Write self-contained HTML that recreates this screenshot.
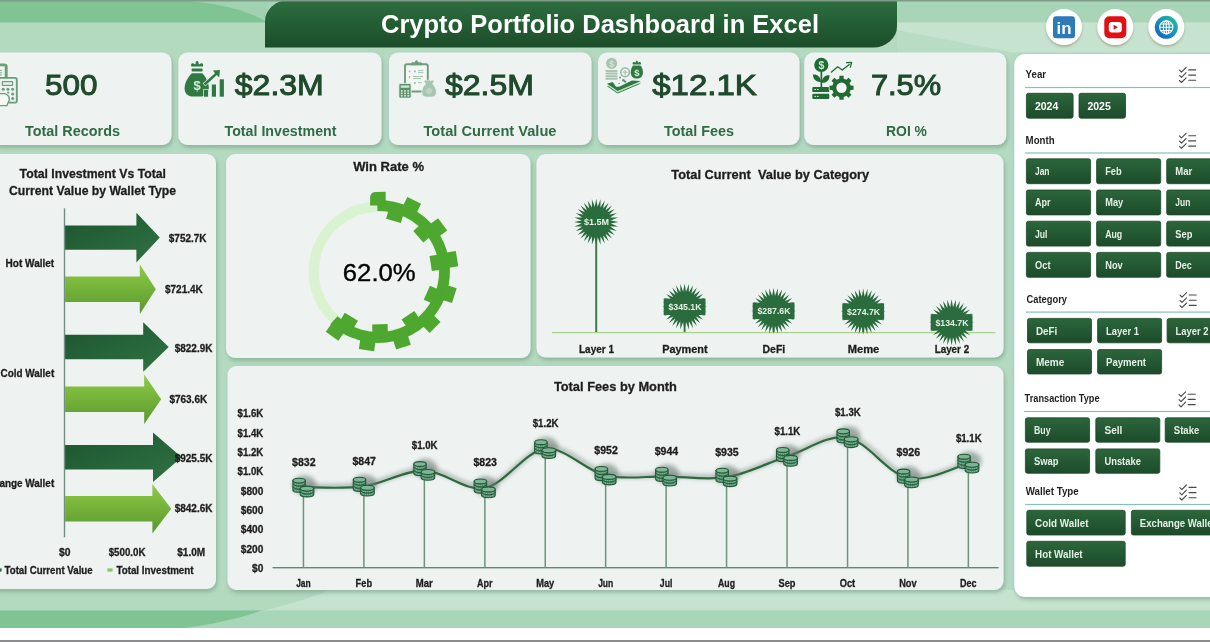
<!DOCTYPE html>
<html lang="en"><head><meta charset="utf-8"><title>Crypto Portfolio Dashboard in Excel</title>
<style>
html,body{margin:0;padding:0;background:#b5dac2;}
body{width:1210px;height:642px;overflow:hidden;}
svg{display:block;font-family:"Liberation Sans",sans-serif;will-change:transform;}
</style></head><body>
<svg width="1210" height="642" viewBox="0 0 1210 642">
<defs>
<filter id="sh" x="-5%" y="-5%" width="110%" height="112%"><feDropShadow dx="1.2" dy="2.6" stdDeviation="2.2" flood-color="#5d8a70" flood-opacity="0.5"/></filter>
<filter id="sh2" x="-20%" y="-20%" width="140%" height="150%"><feDropShadow dx="0" dy="1.5" stdDeviation="1" flood-color="#7a5a40" flood-opacity="0.45"/></filter>
<filter id="glow" x="-50%" y="-50%" width="200%" height="200%"><feGaussianBlur stdDeviation="2.2"/></filter>
<linearGradient id="gTitle" x1="0" y1="0" x2="0" y2="1"><stop offset="0" stop-color="#2d6e40"/><stop offset="1" stop-color="#1b4d2a"/></linearGradient>
<linearGradient id="gGlobe" x1="0" y1="1" x2="1" y2="0"><stop offset="0.1" stop-color="#1463c8"/><stop offset="0.95" stop-color="#1cc4a0"/></linearGradient>
<linearGradient id="gBtn" x1="0" y1="0" x2="0" y2="1"><stop offset="0" stop-color="#2c663c"/><stop offset="1" stop-color="#1c4b2a"/></linearGradient>
<linearGradient id="gDark" x1="0" y1="0" x2="1" y2="1"><stop offset="0" stop-color="#1d5530"/><stop offset="1" stop-color="#2f7242"/></linearGradient>
<linearGradient id="gLight" x1="0" y1="0" x2="0" y2="1"><stop offset="0" stop-color="#8fca45"/><stop offset="1" stop-color="#58992e"/></linearGradient>
</defs>
<rect width="1210" height="642" fill="#b5dac2"/>
<rect x="0" y="0" width="1210" height="22.5" fill="#a8d5b8"/>
<rect x="0" y="22.5" width="1210" height="32" fill="#b3d9bf"/>
<rect x="897" y="22.5" width="320" height="30" fill="#c6e3d0"/>
<path d="M897 30 L1010 52 L1010 60 L897 60Z" fill="#b9dcc5"/>
<path d="M0 0H265V22.5H0Z" fill="#80c494"/>
<path d="M175 0 C225 3 250 12 268 22.5 L268 0Z" fill="#a0d1b0"/>
<rect x="0" y="590" width="1210" height="20.5" fill="#c6e3d0"/>
<path d="M0 590 H330 C300 602 270 610 190 628 H0Z" fill="#b3d9bf"/>
<rect x="0" y="610.5" width="1210" height="17.5" fill="#a8d6b9"/>
<path d="M0 610.5 H262 C240 618 215 624 185 628 H0Z" fill="#80c494"/>
<rect x="0" y="628" width="1210" height="12" fill="#ffffff"/>
<rect x="0" y="640" width="1210" height="2" fill="#8c8c8c"/>
<path d="M289 0 H897 V26.5 A24 21 0 0 1 873 47.5 H265 V21 A24 21 0 0 1 289 0Z" fill="url(#gTitle)"/>
<text x="600" y="32.5" font-size="25.5" font-weight="bold" fill="#ffffff" text-anchor="middle" textLength="438" lengthAdjust="spacingAndGlyphs">Crypto Portfolio Dashboard in Excel</text>
<rect x="0" y="0" width="1210" height="1.5" fill="#7f9c88"/>
<circle cx="1064" cy="27.1" r="18" fill="#ffffff" filter="url(#sh2)"/>
<circle cx="1115.3" cy="27.1" r="18" fill="#ffffff" filter="url(#sh2)"/>
<circle cx="1166.3" cy="27.1" r="18" fill="#ffffff" filter="url(#sh2)"/>
<rect x="1053" y="16.3" width="22" height="22" rx="3" fill="#2d7ab8"/>
<text x="1064" y="34.3" font-size="17" font-weight="bold" fill="#ffffff" text-anchor="middle" textLength="15" lengthAdjust="spacingAndGlyphs">in</text>
<rect x="1104.3" y="16.3" width="22" height="22" rx="5" fill="#e20f12"/>
<rect x="1108.8" y="22" width="13" height="10.6" rx="3" fill="#ffffff"/>
<path d="M1113.6 24.8 L1118 27.3 L1113.6 29.8Z" fill="#e20f12"/>
<circle cx="1166.3" cy="27.3" r="11.5" fill="url(#gGlobe)"/>
<g fill="none" stroke="#ffffff" stroke-width="1.1"><circle cx="1166.3" cy="27.3" r="6.6"/><ellipse cx="1166.3" cy="27.3" rx="2.9" ry="6.6"/><path d="M1159.7 27.3H1172.9M1160.7 24H1171.9M1160.7 30.6H1171.9M1166.3 20.7V33.9"/></g>
<rect x="-10" y="52.5" width="181.5" height="92.5" rx="9" fill="#eef3f1" filter="url(#sh)"/>
<rect x="178.3" y="52.5" width="203.2" height="92.5" rx="9" fill="#eef3f1" filter="url(#sh)"/>
<rect x="389" y="52.5" width="202.5" height="92.5" rx="9" fill="#eef3f1" filter="url(#sh)"/>
<rect x="598" y="52.5" width="201.5" height="92.5" rx="9" fill="#eef3f1" filter="url(#sh)"/>
<rect x="804.3" y="52.5" width="202" height="92.5" rx="9" fill="#eef3f1" filter="url(#sh)"/>
<text x="45" y="94.6" font-size="30" font-weight="normal" fill="#1f4a2c" textLength="52.5" lengthAdjust="spacingAndGlyphs" stroke="#1f4a2c" stroke-width="1.0">500</text>
<text x="234.8" y="94.6" font-size="30" font-weight="normal" fill="#1f4a2c" textLength="89" lengthAdjust="spacingAndGlyphs" stroke="#1f4a2c" stroke-width="1.0">$2.3M</text>
<text x="445" y="94.6" font-size="30" font-weight="normal" fill="#1f4a2c" textLength="89" lengthAdjust="spacingAndGlyphs" stroke="#1f4a2c" stroke-width="1.0">$2.5M</text>
<text x="652.2" y="94.6" font-size="30" font-weight="normal" fill="#1f4a2c" textLength="104.6" lengthAdjust="spacingAndGlyphs" stroke="#1f4a2c" stroke-width="1.0">$12.1K</text>
<text x="870.9" y="94.6" font-size="30" font-weight="normal" fill="#1f4a2c" textLength="70.3" lengthAdjust="spacingAndGlyphs" stroke="#1f4a2c" stroke-width="1.0">7.5%</text>
<text x="72.5" y="135.5" font-size="14.3" font-weight="bold" fill="#2f6b43" text-anchor="middle" textLength="95" lengthAdjust="spacingAndGlyphs">Total Records</text>
<text x="280.5" y="135.5" font-size="14.3" font-weight="bold" fill="#2f6b43" text-anchor="middle" textLength="112" lengthAdjust="spacingAndGlyphs">Total Investment</text>
<text x="490" y="135.5" font-size="14.3" font-weight="bold" fill="#2f6b43" text-anchor="middle" textLength="133" lengthAdjust="spacingAndGlyphs">Total Current Value</text>
<text x="699" y="135.5" font-size="14.3" font-weight="bold" fill="#2f6b43" text-anchor="middle" textLength="70" lengthAdjust="spacingAndGlyphs">Total Fees</text>
<text x="906.5" y="135.5" font-size="14.3" font-weight="bold" fill="#2f6b43" text-anchor="middle" textLength="41" lengthAdjust="spacingAndGlyphs">ROI %</text>
<rect x="-10" y="154" width="226" height="435" rx="9" fill="#eef3f1" filter="url(#sh)"/>
<rect x="226" y="154" width="304.5" height="204" rx="9" fill="#eef3f1" filter="url(#sh)"/>
<rect x="536.5" y="154" width="467" height="203.5" rx="9" fill="#eef3f1" filter="url(#sh)"/>
<rect x="227.5" y="366" width="776" height="224" rx="9" fill="#eef3f1" filter="url(#sh)"/>
<rect x="1014.3" y="54" width="210" height="543" rx="11" fill="#ffffff" filter="url(#sh)"/>
<g fill="none" stroke="#6a9d79" stroke-width="1.2"><path d="M-2 64.9 H4.6 A1.6 1.6 0 0 1 6.2 66.5 V77.5" stroke-width="2.9"/><path d="M-1 70.5H1.8M-1 72.7H1.8M-1 74.9H1.8" stroke-width="0.9"/><path d="M-2 77.9 H15.2 A1.6 1.6 0 0 1 16.8 79.5 V101 A1.6 1.6 0 0 1 15.2 102.6 H9" stroke-width="1.9"/><rect x="2.4" y="81.6" width="10.2" height="3.8" rx="0.6"/></g>
<g fill="#6a9d79"><circle cx="3.3" cy="89.2" r="1.5"/><circle cx="7.9" cy="89.2" r="1.5"/><circle cx="12.6" cy="89.2" r="1.5"/><circle cx="12.6" cy="93.9" r="1.5"/><circle cx="12.6" cy="98.5" r="1.5"/><circle cx="8.2" cy="92.6" r="1.1"/></g>
<path d="M-3 93.6 H4.5 C8 94.5 9.6 97.5 9.2 100.5 L6.8 105.6 H-3Z" fill="#f6faf7" stroke="#6a9d79" stroke-width="1.4" stroke-linejoin="round"/>
<g fill="#2f7a43"><path d="M191.3 66.6 C190.6 64.6 191.4 62.8 193 63.2 C194 63.6 195 64.4 195.6 64.2 C195.4 62.2 196.2 61 197.1 61 C198 61 198.8 62.2 198.6 64.2 C199.2 64.4 200.2 63.6 201.2 63.2 C202.8 62.8 203.6 64.6 202.9 66.6Z"/><rect x="191.6" y="68.6" width="11" height="3" rx="0.8"/><path d="M192 73.2 H202.2 C205.5 76.5 208.8 82 208.8 88 C208.8 93.5 205 96.6 200 96.6 H193 C188 96.6 184.6 93.5 184.6 88.5 C184.6 82 188.5 76.5 192 73.2Z"/></g>
<g fill="#2f7a43" stroke="#eef3f1" stroke-width="1.3" paint-order="stroke"><rect x="203.9" y="89.7" width="4.2" height="7"/><rect x="211.8" y="84.5" width="4.2" height="12.2"/><rect x="219.7" y="79.3" width="4.2" height="17.4"/><path d="M203.6 83.4 L215 73.2 L212.9 70.6 L220 70 L219.2 77.4 L216.9 75 L205.4 85.4Z"/></g>
<text x="197.2" y="90" font-size="13" font-weight="bold" fill="#d4ead6" text-anchor="middle">$</text>
<rect x="405" y="64.3" width="22.8" height="27.2" rx="1.8" fill="#f3f7f4" stroke="#6f9d7c" stroke-width="1.9"/>
<path d="M411.2 65.2 V63.2 Q411.2 62.2 412.2 62.2 H414.8 C415.2 60.8 416 60.2 416.5 60.2 C417 60.2 417.8 60.8 418.2 62.2 H420.8 Q421.8 62.2 421.8 63.2 V65.2Z" fill="#6f9d7c"/>
<g fill="#9dbda6"><circle cx="409.6" cy="71.4" r="0.9"/><circle cx="414.8" cy="71.4" r="1.1"/><circle cx="409.6" cy="77" r="0.9"/><circle cx="414.8" cy="83" r="1.1"/><rect x="418" y="70.2" width="5.4" height="0.9"/><rect x="418" y="72.2" width="5.4" height="0.9"/><rect x="413" y="76" width="10" height="0.9"/><rect x="413" y="78" width="8" height="0.9"/><rect x="418" y="82.2" width="4" height="0.9"/></g>
<rect x="398.9" y="83.5" width="12.2" height="14.6" rx="1.4" fill="#5c8f6b" stroke="#eef3f1" stroke-width="0.8"/>
<rect x="400.7" y="85.4" width="8.6" height="2.4" fill="#cfe3d4"/>
<rect x="400.80" y="90.10" width="1.9" height="1.6" fill="#cfe3d4"/><rect x="400.80" y="92.55" width="1.9" height="1.6" fill="#cfe3d4"/><rect x="400.80" y="95.00" width="1.9" height="1.6" fill="#cfe3d4"/><rect x="404.05" y="90.10" width="1.9" height="1.6" fill="#cfe3d4"/><rect x="404.05" y="92.55" width="1.9" height="1.6" fill="#cfe3d4"/><rect x="404.05" y="95.00" width="1.9" height="1.6" fill="#cfe3d4"/><rect x="407.30" y="90.10" width="1.9" height="1.6" fill="#cfe3d4"/><rect x="407.30" y="92.55" width="1.9" height="1.6" fill="#cfe3d4"/><rect x="407.30" y="95.00" width="1.9" height="1.6" fill="#cfe3d4"/>
<g fill="#a7c5b0" stroke="#eef3f1" stroke-width="0.8"><path d="M424.6 82.6 C423.6 81.2 424.4 79.8 425.8 80 L427.6 80.8 L429.1 79.7 L430.6 80.8 L432.4 80 C433.8 79.8 434.6 81.2 433.6 82.6 L432.6 84 C435.3 86.3 436.6 89.5 436.4 92.8 C436.2 95.7 434.4 97.1 432 97.1 H426.2 C423.8 97.1 422 95.7 421.8 92.8 C421.6 89.5 422.9 86.3 425.6 84Z"/></g>
<circle cx="429.1" cy="91" r="3" fill="#bdd4c4"/>
<circle cx="611.6" cy="63.4" r="5.6" fill="#a9c4b0"/>
<text x="611.6" y="66.6" font-size="8.5" font-weight="bold" fill="#d6e6da" text-anchor="middle">$</text>
<rect x="605.4" y="69.90" width="12.3" height="2" rx="0.9" fill="#a9c4b0"/>
<rect x="605.4" y="72.55" width="12.3" height="2" rx="0.9" fill="#a9c4b0"/>
<rect x="605.4" y="75.20" width="12.3" height="2" rx="0.9" fill="#a9c4b0"/>
<rect x="605.4" y="77.85" width="12.3" height="2" rx="0.9" fill="#a9c4b0"/>
<circle cx="625.1" cy="72.3" r="4.3" fill="#f3f7f4" stroke="#9cb8a5" stroke-width="1.6"/>
<path d="M625.1 69.9V74.7M622.7 72.3H627.5" stroke="#b4cabb" stroke-width="1.5"/>
<g fill="#2f7a43"><path d="M632.8 64.6 C632.2 62.9 632.9 61.6 634.2 62 L635.6 62.8 C635.6 61.4 636.1 60.8 636.8 60.8 C637.5 60.8 638 61.4 638 62.8 L639.4 62 C640.7 61.6 641.4 62.9 640.8 64.6Z"/><path d="M633.2 65.6 H640.4 C642 67.2 642.9 69.6 642.9 72.4 C642.9 76.2 640.6 78.4 637.4 78.4 H636.2 C633 78.4 630.8 76.2 630.8 72.4 C630.8 69.6 631.6 67.2 633.2 65.6Z"/></g>
<text x="636.8" y="76" font-size="9.5" font-weight="bold" fill="#d4ead6" text-anchor="middle">$</text>
<path d="M607 83.7 L612.3 81.9 C613.6 82.6 614.4 84.4 615.4 85.9 C616.2 87 618.4 87.2 620.7 85.9 L631.9 80.6 L641 80.9 L617.6 90.9Z" fill="#2f7a43" transform="translate(0,2.6)"/>
<path d="M607 83.7 L612.3 81.9 C613.6 82.6 614.4 84.4 615.4 85.9 C616.2 87 618.4 87.2 620.7 85.9 L631.9 80.6 L641 80.9 L617.6 90.9Z" fill="#bfe3c8" transform="translate(0,1.5)"/>
<path d="M607 83.7 L612.3 81.9 C613.6 82.6 614.4 84.4 615.4 85.9 C616.2 87 618.4 87.2 620.7 85.9 L631.9 80.6 L641 80.9 L617.6 90.9Z" fill="#2f7a43"/>
<path d="M607 83.7 L617.6 90.9 L641 80.9" fill="none" stroke="#bfe3c8" stroke-width="0.5" transform="translate(0,0.9)"/>
<g fill="#5f9170"><circle cx="620.1" cy="77.5" r="0.9"/><circle cx="623.4" cy="80.2" r="1.3"/><circle cx="625.1" cy="81.6" r="1.2"/><circle cx="619.1" cy="83.4" r="0.7"/></g>
<g fill="#1f6b33"><circle cx="821.3" cy="64.9" r="7.1"/><rect x="820.5" y="71.5" width="1.7" height="15.8"/><path d="M812.9 74.6 C817.4 74.2 820.6 76.8 821 82 C816.4 82.4 813.2 79.8 812.9 74.6Z"/><path d="M829.6 75.4 C825.2 75 822 77.6 821.7 82.8 C826.2 83.2 829.4 80.6 829.6 75.4Z"/><rect x="812.3" y="86.9" width="17" height="5.2" rx="1.2"/><rect x="812.3" y="93.8" width="17" height="5.2" rx="1.2"/></g>
<text x="821.3" y="68.7" font-size="10.5" font-weight="bold" fill="#cfe9d3" text-anchor="middle">$</text>
<g fill="#cfe9d3"><rect x="814.4" y="89" width="1.6" height="1"/><rect x="817" y="89" width="1.6" height="1"/><rect x="814.4" y="95.9" width="1.6" height="1"/><rect x="817" y="95.9" width="1.6" height="1"/></g>
<path d="M839.27 78.67 L839.44 75.78 L843.56 75.78 L843.73 78.67 L846.38 79.76 L848.54 77.84 L851.46 80.76 L849.54 82.92 L850.63 85.57 L853.52 85.74 L853.52 89.86 L850.63 90.03 L849.54 92.68 L851.46 94.84 L848.54 97.76 L846.38 95.84 L843.73 96.93 L843.56 99.82 L839.44 99.82 L839.27 96.93 L836.62 95.84 L834.46 97.76 L831.54 94.84 L833.46 92.68 L832.37 90.03 L829.48 89.86 L829.48 85.74 L832.37 85.57 L833.46 82.92 L831.54 80.76 L834.46 77.84 L836.62 79.76Z" fill="#1f6b33" stroke="#eef3f1" stroke-width="1.4" paint-order="stroke" stroke-linejoin="round"/>
<circle cx="841.5" cy="87.8" r="5.2" fill="#f3f6f4"/>
<path d="M831 72.4 L837.6 66.7 L842.3 70 L849.6 64.2" fill="none" stroke="#1f6b33" stroke-width="1.3" stroke-linejoin="round"/>
<path d="M846.6 62.6 L851.6 62.4 L850.4 67.2" fill="none" stroke="#1f6b33" stroke-width="1.3" stroke-linejoin="round" stroke-linecap="round"/>
<text x="92.8" y="178.4" font-size="13" font-weight="bold" fill="#1e1e1e" text-anchor="middle" textLength="146.4" lengthAdjust="spacingAndGlyphs" stroke="#1e1e1e" stroke-width="0.3">Total Investment Vs Total</text>
<text x="92.5" y="195.2" font-size="13" font-weight="bold" fill="#1e1e1e" text-anchor="middle" textLength="167" lengthAdjust="spacingAndGlyphs" stroke="#1e1e1e" stroke-width="0.3">Current Value by Wallet Type</text>
<rect x="63.8" y="208.3" width="1.4" height="329" fill="#6f9080"/>
<path d="M65.1 225.4 H136.4 V212.8 L159.8 237.6 L136.4 262.4 V249.8 H65.1Z" fill="url(#gDark)"/>
<path d="M65.1 276.5 H139.8 V264.4 L155.8 289.2 L139.8 314.0 V301.9 H65.1Z" fill="url(#gLight)"/>
<text x="54.2" y="267.40000000000003" font-size="10.2" font-weight="bold" fill="#1e1e1e" text-anchor="end" textLength="48.6" lengthAdjust="spacingAndGlyphs" stroke="#1e1e1e" stroke-width="0.3">Hot Wallet</text>
<path d="M65.1 334.8 H143.2 V322.2 L168.7 347.0 L143.2 371.8 V359.2 H65.1Z" fill="url(#gDark)"/>
<path d="M65.1 386.5 H144.2 V374.4 L161.2 399.2 L144.2 424.0 V411.9 H65.1Z" fill="url(#gLight)"/>
<text x="54.2" y="377.0" font-size="10.2" font-weight="bold" fill="#1e1e1e" text-anchor="end" textLength="53.6" lengthAdjust="spacingAndGlyphs" stroke="#1e1e1e" stroke-width="0.3">Cold Wallet</text>
<path d="M65.1 445.0 H153.0 V432.4 L181.7 457.2 L153.0 482.0 V469.4 H65.1Z" fill="url(#gDark)"/>
<path d="M65.1 496.0 H152.4 V483.9 L171.2 508.7 L152.4 533.5 V521.4 H65.1Z" fill="url(#gLight)"/>
<text x="54.2" y="486.8" font-size="10.2" font-weight="bold" fill="#1e1e1e" text-anchor="end" textLength="78.5" lengthAdjust="spacingAndGlyphs" stroke="#1e1e1e" stroke-width="0.3">Exchange Wallet</text>
<text x="168.8" y="241.9" font-size="10.2" font-weight="bold" fill="#1e1e1e" textLength="37.8" lengthAdjust="spacingAndGlyphs" stroke="#1e1e1e" stroke-width="0.3">$752.7K</text>
<text x="165" y="293.3" font-size="10.2" font-weight="bold" fill="#1e1e1e" textLength="37.8" lengthAdjust="spacingAndGlyphs" stroke="#1e1e1e" stroke-width="0.3">$721.4K</text>
<text x="174.7" y="351.5" font-size="10.2" font-weight="bold" fill="#1e1e1e" textLength="37.8" lengthAdjust="spacingAndGlyphs" stroke="#1e1e1e" stroke-width="0.3">$822.9K</text>
<text x="169.4" y="402.6" font-size="10.2" font-weight="bold" fill="#1e1e1e" textLength="37.8" lengthAdjust="spacingAndGlyphs" stroke="#1e1e1e" stroke-width="0.3">$763.6K</text>
<text x="174.7" y="461.5" font-size="10.2" font-weight="bold" fill="#1e1e1e" textLength="37.8" lengthAdjust="spacingAndGlyphs" stroke="#1e1e1e" stroke-width="0.3">$925.5K</text>
<text x="174.7" y="511.7" font-size="10.2" font-weight="bold" fill="#1e1e1e" textLength="37.8" lengthAdjust="spacingAndGlyphs" stroke="#1e1e1e" stroke-width="0.3">$842.6K</text>
<text x="64.7" y="555.8" font-size="10" font-weight="bold" fill="#1e1e1e" text-anchor="middle" textLength="11.5" lengthAdjust="spacingAndGlyphs" stroke="#1e1e1e" stroke-width="0.3">$0</text>
<text x="127.1" y="555.8" font-size="10" font-weight="bold" fill="#1e1e1e" text-anchor="middle" textLength="36.8" lengthAdjust="spacingAndGlyphs" stroke="#1e1e1e" stroke-width="0.3">$500.0K</text>
<text x="191.2" y="555.8" font-size="10" font-weight="bold" fill="#1e1e1e" text-anchor="middle" textLength="27.8" lengthAdjust="spacingAndGlyphs" stroke="#1e1e1e" stroke-width="0.3">$1.0M</text>
<rect x="-2" y="568.4" width="3.6" height="3.2" fill="#2b6b3d"/>
<text x="4.5" y="573.6" font-size="10.2" font-weight="bold" fill="#1e1e1e" textLength="88.2" lengthAdjust="spacingAndGlyphs" stroke="#1e1e1e" stroke-width="0.3">Total Current Value</text>
<rect x="107.4" y="568.4" width="5.2" height="3.2" fill="#8dc46a"/>
<text x="116.4" y="573.6" font-size="10.2" font-weight="bold" fill="#1e1e1e" textLength="77.2" lengthAdjust="spacingAndGlyphs" stroke="#1e1e1e" stroke-width="0.3">Total Investment</text>
<text x="388.6" y="171.3" font-size="13.2" font-weight="bold" fill="#1e1e1e" text-anchor="middle" textLength="70.8" lengthAdjust="spacingAndGlyphs" stroke="#1e1e1e" stroke-width="0.3">Win Rate %</text>
<circle cx="378.5" cy="271.5" r="64.7" fill="none" stroke="#d9f2d0" stroke-width="10.2"/>
<g fill="#4ea72e"><path d="M377.35 205.51 A66 66 0 1 1 333.91 320.16" fill="none" stroke="#4ea72e" stroke-width="10.8"/><path d="M370.5 205.5 V197.5 Q370.5 191.9 376.5 191.9 H386.1 V205.5Z" transform="rotate(-0.3 378.5 271.5)"/><rect x="370.8" y="191.9" width="15.4" height="14" transform="rotate(26.7 378.5 271.5)"/><rect x="370.8" y="191.9" width="15.4" height="14" transform="rotate(53.7 378.5 271.5)"/><rect x="370.8" y="191.9" width="15.4" height="14" transform="rotate(80.7 378.5 271.5)"/><rect x="370.8" y="191.9" width="15.4" height="14" transform="rotate(107.7 378.5 271.5)"/><rect x="370.8" y="191.9" width="15.4" height="14" transform="rotate(134.7 378.5 271.5)"/><rect x="370.8" y="191.9" width="15.4" height="14" transform="rotate(161.7 378.5 271.5)"/><rect x="370.8" y="191.9" width="15.4" height="14" transform="rotate(188.7 378.5 271.5)"/><rect x="370.8" y="191.9" width="15.4" height="14" transform="rotate(215.7 378.5 271.5)"/><rect x="370.8" y="205.5" width="15.4" height="13.2" transform="rotate(16.5 378.5 271.5)"/><rect x="370.8" y="205.5" width="15.4" height="13.2" transform="rotate(48.9 378.5 271.5)"/><rect x="370.8" y="205.5" width="15.4" height="13.2" transform="rotate(81.3 378.5 271.5)"/><rect x="370.8" y="205.5" width="15.4" height="13.2" transform="rotate(113.7 378.5 271.5)"/><rect x="370.8" y="205.5" width="15.4" height="13.2" transform="rotate(146.1 378.5 271.5)"/><rect x="370.8" y="205.5" width="15.4" height="13.2" transform="rotate(178.5 378.5 271.5)"/><rect x="370.8" y="205.5" width="15.4" height="13.2" transform="rotate(210.9 378.5 271.5)"/></g>
<text x="342.8" y="281.3" font-size="24.4" font-weight="normal" fill="#000000" textLength="72.9" lengthAdjust="spacingAndGlyphs" stroke="#000" stroke-width="0.35">62.0%</text>
<text x="770.2" y="179.1" font-size="13.2" font-weight="bold" fill="#1e1e1e" text-anchor="middle" textLength="197.8" lengthAdjust="spacingAndGlyphs" stroke="#1e1e1e" stroke-width="0.3" xml:space="preserve">Total Current  Value by Category</text>
<rect x="595.2" y="222.0" width="2" height="110.6" fill="#3f7a50"/>
<rect x="683.6" y="306.8" width="2" height="25.8" fill="#3f7a50"/>
<rect x="772.6" y="310.9" width="2" height="21.7" fill="#3f7a50"/>
<rect x="862.2" y="311.6" width="2" height="21.0" fill="#3f7a50"/>
<rect x="950.6" y="322.4" width="2" height="10.2" fill="#3f7a50"/>
<rect x="552" y="332.0" width="443.5" height="1.2" fill="#a9d18e"/>
<path d="M596.20 198.80 L597.63 206.87 L600.55 199.25 L600.44 207.45 L604.72 200.57 L603.08 208.59 L608.57 202.71 L605.46 210.25 L611.95 205.60 L607.48 212.36 L614.72 209.11 L609.07 214.83 L616.78 213.12 L610.16 217.59 L618.04 217.47 L610.72 220.51 L618.47 222.00 L610.72 223.49 L618.04 226.53 L610.16 226.41 L616.78 230.88 L609.07 229.17 L614.72 234.89 L607.48 231.64 L611.95 238.40 L605.46 233.75 L608.57 241.29 L603.08 235.41 L604.72 243.43 L600.44 236.55 L600.55 244.75 L597.63 237.13 L596.20 245.20 L594.77 237.13 L591.85 244.75 L591.96 236.55 L587.68 243.43 L589.32 235.41 L583.83 241.29 L586.94 233.75 L580.45 238.40 L584.92 231.64 L577.68 234.89 L583.33 229.17 L575.62 230.88 L582.24 226.41 L574.36 226.53 L581.68 223.49 L573.93 222.00 L581.68 220.51 L574.36 217.47 L582.24 217.59 L575.62 213.12 L583.33 214.83 L577.68 209.11 L584.92 212.36 L580.45 205.60 L586.94 210.25 L583.83 202.71 L589.32 208.59 L587.68 200.57 L591.96 207.45 L591.85 199.25 L594.77 206.87Z" fill="#2b6c3e"/>
<text x="596.6" y="225.4" font-size="9.2" font-weight="bold" fill="#e4f1e4" text-anchor="middle" textLength="25" lengthAdjust="spacingAndGlyphs">$1.5M</text>
<text x="596.5" y="352.9" font-size="11" font-weight="bold" fill="#1e1e1e" text-anchor="middle" textLength="35" lengthAdjust="spacingAndGlyphs" stroke="#1e1e1e" stroke-width="0.3">Layer 1</text>
<path d="M684.60 283.60 L686.03 291.67 L688.95 284.05 L688.84 292.25 L693.12 285.37 L691.48 293.39 L696.97 287.51 L693.86 295.05 L700.35 290.40 L695.88 297.16 L703.12 293.91 L697.47 299.63 L705.18 297.92 L698.56 302.39 L706.44 302.27 L699.12 305.31 L706.87 306.80 L699.12 308.29 L706.44 311.33 L698.56 311.21 L705.18 315.68 L697.47 313.97 L703.12 319.69 L695.88 316.44 L700.35 323.20 L693.86 318.55 L696.97 326.09 L691.48 320.21 L693.12 328.23 L688.84 321.35 L688.95 329.55 L686.03 321.93 L684.60 330.00 L683.17 321.93 L680.25 329.55 L680.36 321.35 L676.08 328.23 L677.72 320.21 L672.23 326.09 L675.34 318.55 L668.85 323.20 L673.32 316.44 L666.08 319.69 L671.73 313.97 L664.02 315.68 L670.64 311.21 L662.76 311.33 L670.08 308.29 L662.33 306.80 L670.08 305.31 L662.76 302.27 L670.64 302.39 L664.02 297.92 L671.73 299.63 L666.08 293.91 L673.32 297.16 L668.85 290.40 L675.34 295.05 L672.23 287.51 L677.72 293.39 L676.08 285.37 L680.36 292.25 L680.25 284.05 L683.17 291.67Z" fill="#2b6c3e"/>
<rect x="663.7" y="298.6" width="41.8" height="16.4" fill="#2b6c3e"/>
<text x="685.0" y="310.2" font-size="9.2" font-weight="bold" fill="#e4f1e4" text-anchor="middle" textLength="33" lengthAdjust="spacingAndGlyphs">$345.1K</text>
<text x="684.9" y="352.9" font-size="11" font-weight="bold" fill="#1e1e1e" text-anchor="middle" textLength="45.3" lengthAdjust="spacingAndGlyphs" stroke="#1e1e1e" stroke-width="0.3">Payment</text>
<path d="M773.60 287.70 L775.03 295.77 L777.95 288.15 L777.84 296.35 L782.12 289.47 L780.48 297.49 L785.97 291.61 L782.86 299.15 L789.35 294.50 L784.88 301.26 L792.12 298.01 L786.47 303.73 L794.18 302.02 L787.56 306.49 L795.44 306.37 L788.12 309.41 L795.87 310.90 L788.12 312.39 L795.44 315.43 L787.56 315.31 L794.18 319.78 L786.47 318.07 L792.12 323.79 L784.88 320.54 L789.35 327.30 L782.86 322.65 L785.97 330.19 L780.48 324.31 L782.12 332.33 L777.84 325.45 L777.95 333.65 L775.03 326.03 L773.60 334.10 L772.17 326.03 L769.25 333.65 L769.36 325.45 L765.08 332.33 L766.72 324.31 L761.23 330.19 L764.34 322.65 L757.85 327.30 L762.32 320.54 L755.08 323.79 L760.73 318.07 L753.02 319.78 L759.64 315.31 L751.76 315.43 L759.08 312.39 L751.33 310.90 L759.08 309.41 L751.76 306.37 L759.64 306.49 L753.02 302.02 L760.73 303.73 L755.08 298.01 L762.32 301.26 L757.85 294.50 L764.34 299.15 L761.23 291.61 L766.72 297.49 L765.08 289.47 L769.36 296.35 L769.25 288.15 L772.17 295.77Z" fill="#2b6c3e"/>
<rect x="752.7" y="302.7" width="41.8" height="16.4" fill="#2b6c3e"/>
<text x="774.0" y="314.29999999999995" font-size="9.2" font-weight="bold" fill="#e4f1e4" text-anchor="middle" textLength="33" lengthAdjust="spacingAndGlyphs">$287.6K</text>
<text x="773.9" y="352.9" font-size="11" font-weight="bold" fill="#1e1e1e" text-anchor="middle" textLength="22.7" lengthAdjust="spacingAndGlyphs" stroke="#1e1e1e" stroke-width="0.3">DeFi</text>
<path d="M863.20 288.40 L864.63 296.47 L867.55 288.85 L867.44 297.05 L871.72 290.17 L870.08 298.19 L875.57 292.31 L872.46 299.85 L878.95 295.20 L874.48 301.96 L881.72 298.71 L876.07 304.43 L883.78 302.72 L877.16 307.19 L885.04 307.07 L877.72 310.11 L885.47 311.60 L877.72 313.09 L885.04 316.13 L877.16 316.01 L883.78 320.48 L876.07 318.77 L881.72 324.49 L874.48 321.24 L878.95 328.00 L872.46 323.35 L875.57 330.89 L870.08 325.01 L871.72 333.03 L867.44 326.15 L867.55 334.35 L864.63 326.73 L863.20 334.80 L861.77 326.73 L858.85 334.35 L858.96 326.15 L854.68 333.03 L856.32 325.01 L850.83 330.89 L853.94 323.35 L847.45 328.00 L851.92 321.24 L844.68 324.49 L850.33 318.77 L842.62 320.48 L849.24 316.01 L841.36 316.13 L848.68 313.09 L840.93 311.60 L848.68 310.11 L841.36 307.07 L849.24 307.19 L842.62 302.72 L850.33 304.43 L844.68 298.71 L851.92 301.96 L847.45 295.20 L853.94 299.85 L850.83 292.31 L856.32 298.19 L854.68 290.17 L858.96 297.05 L858.85 288.85 L861.77 296.47Z" fill="#2b6c3e"/>
<rect x="842.3" y="303.4" width="41.8" height="16.4" fill="#2b6c3e"/>
<text x="863.6" y="315.0" font-size="9.2" font-weight="bold" fill="#e4f1e4" text-anchor="middle" textLength="33" lengthAdjust="spacingAndGlyphs">$274.7K</text>
<text x="863.5" y="352.9" font-size="11" font-weight="bold" fill="#1e1e1e" text-anchor="middle" textLength="31.6" lengthAdjust="spacingAndGlyphs" stroke="#1e1e1e" stroke-width="0.3">Meme</text>
<path d="M951.60 299.20 L953.03 307.27 L955.95 299.65 L955.84 307.85 L960.12 300.97 L958.48 308.99 L963.97 303.11 L960.86 310.65 L967.35 306.00 L962.88 312.76 L970.12 309.51 L964.47 315.23 L972.18 313.52 L965.56 317.99 L973.44 317.87 L966.12 320.91 L973.87 322.40 L966.12 323.89 L973.44 326.93 L965.56 326.81 L972.18 331.28 L964.47 329.57 L970.12 335.29 L962.88 332.04 L967.35 338.80 L960.86 334.15 L963.97 341.69 L958.48 335.81 L960.12 343.83 L955.84 336.95 L955.95 345.15 L953.03 337.53 L951.60 345.60 L950.17 337.53 L947.25 345.15 L947.36 336.95 L943.08 343.83 L944.72 335.81 L939.23 341.69 L942.34 334.15 L935.85 338.80 L940.32 332.04 L933.08 335.29 L938.73 329.57 L931.02 331.28 L937.64 326.81 L929.76 326.93 L937.08 323.89 L929.33 322.40 L937.08 320.91 L929.76 317.87 L937.64 317.99 L931.02 313.52 L938.73 315.23 L933.08 309.51 L940.32 312.76 L935.85 306.00 L942.34 310.65 L939.23 303.11 L944.72 308.99 L943.08 300.97 L947.36 307.85 L947.25 299.65 L950.17 307.27Z" fill="#2b6c3e"/>
<rect x="930.7" y="314.2" width="41.8" height="16.4" fill="#2b6c3e"/>
<text x="952.0" y="325.79999999999995" font-size="9.2" font-weight="bold" fill="#e4f1e4" text-anchor="middle" textLength="33" lengthAdjust="spacingAndGlyphs">$134.7K</text>
<text x="951.9" y="352.9" font-size="11" font-weight="bold" fill="#1e1e1e" text-anchor="middle" textLength="34.5" lengthAdjust="spacingAndGlyphs" stroke="#1e1e1e" stroke-width="0.3">Layer 2</text>
<text x="615.4" y="390.5" font-size="13.4" font-weight="bold" fill="#1e1e1e" text-anchor="middle" textLength="123" lengthAdjust="spacingAndGlyphs" stroke="#1e1e1e" stroke-width="0.3">Total Fees by Month</text>
<text x="263.3" y="572.2" font-size="10" font-weight="bold" fill="#1e1e1e" text-anchor="end" textLength="11.3" lengthAdjust="spacingAndGlyphs" stroke="#1e1e1e" stroke-width="0.3">$0</text>
<text x="263.3" y="552.84" font-size="10" font-weight="bold" fill="#1e1e1e" text-anchor="end" textLength="22.5" lengthAdjust="spacingAndGlyphs" stroke="#1e1e1e" stroke-width="0.3">$200</text>
<text x="263.3" y="533.48" font-size="10" font-weight="bold" fill="#1e1e1e" text-anchor="end" textLength="22.5" lengthAdjust="spacingAndGlyphs" stroke="#1e1e1e" stroke-width="0.3">$400</text>
<text x="263.3" y="514.12" font-size="10" font-weight="bold" fill="#1e1e1e" text-anchor="end" textLength="22.5" lengthAdjust="spacingAndGlyphs" stroke="#1e1e1e" stroke-width="0.3">$600</text>
<text x="263.3" y="494.76000000000005" font-size="10" font-weight="bold" fill="#1e1e1e" text-anchor="end" textLength="22.5" lengthAdjust="spacingAndGlyphs" stroke="#1e1e1e" stroke-width="0.3">$800</text>
<text x="263.3" y="475.40000000000003" font-size="10" font-weight="bold" fill="#1e1e1e" text-anchor="end" textLength="25.7" lengthAdjust="spacingAndGlyphs" stroke="#1e1e1e" stroke-width="0.3">$1.0K</text>
<text x="263.3" y="456.0400000000001" font-size="10" font-weight="bold" fill="#1e1e1e" text-anchor="end" textLength="25.7" lengthAdjust="spacingAndGlyphs" stroke="#1e1e1e" stroke-width="0.3">$1.2K</text>
<text x="263.3" y="436.68000000000006" font-size="10" font-weight="bold" fill="#1e1e1e" text-anchor="end" textLength="25.7" lengthAdjust="spacingAndGlyphs" stroke="#1e1e1e" stroke-width="0.3">$1.4K</text>
<text x="263.3" y="417.32000000000005" font-size="10" font-weight="bold" fill="#1e1e1e" text-anchor="end" textLength="25.7" lengthAdjust="spacingAndGlyphs" stroke="#1e1e1e" stroke-width="0.3">$1.6K</text>
<rect x="272.6" y="567.0" width="726" height="1.4" fill="#5f8a70"/>
<rect x="302.7" y="487.2" width="1.5" height="80.5" fill="#6f937d"/>
<rect x="363.1" y="486.3" width="1.5" height="81.4" fill="#6f937d"/>
<rect x="423.6" y="470.6" width="1.5" height="97.1" fill="#6f937d"/>
<rect x="484.1" y="488.0" width="1.5" height="79.7" fill="#6f937d"/>
<rect x="544.5" y="448.8" width="1.5" height="118.9" fill="#6f937d"/>
<rect x="604.9" y="475.5" width="1.5" height="92.2" fill="#6f937d"/>
<rect x="665.4" y="476.3" width="1.5" height="91.4" fill="#6f937d"/>
<rect x="725.8" y="477.2" width="1.5" height="90.5" fill="#6f937d"/>
<rect x="786.3" y="456.5" width="1.5" height="111.2" fill="#6f937d"/>
<rect x="846.8" y="437.9" width="1.5" height="129.8" fill="#6f937d"/>
<rect x="907.2" y="478.1" width="1.5" height="89.6" fill="#6f937d"/>
<rect x="967.6" y="463.3" width="1.5" height="104.4" fill="#6f937d"/>
<path d="M303.4 487.2 C313.5 487.1 343.7 489.1 363.8 486.3 C384.0 483.5 404.1 470.3 424.3 470.6 C444.4 470.9 464.6 491.6 484.8 488.0 C504.9 484.4 525.1 450.9 545.2 448.8 C565.4 446.7 585.5 470.9 605.6 475.5 C625.8 480.1 646.0 476.0 666.1 476.3 C686.2 476.6 706.4 480.5 726.5 477.2 C746.7 473.9 766.9 463.1 787.0 456.5 C807.1 449.9 827.3 434.3 847.5 437.9 C867.6 441.5 887.8 473.9 907.9 478.1 C928.0 482.3 958.3 465.8 968.4 463.3" fill="none" stroke="#6f7f76" stroke-width="4.5" opacity="0.5" filter="url(#glow)" transform="translate(1.5,-1.5)"/>
<path d="M303.4 487.2 C313.5 487.1 343.7 489.1 363.8 486.3 C384.0 483.5 404.1 470.3 424.3 470.6 C444.4 470.9 464.6 491.6 484.8 488.0 C504.9 484.4 525.1 450.9 545.2 448.8 C565.4 446.7 585.5 470.9 605.6 475.5 C625.8 480.1 646.0 476.0 666.1 476.3 C686.2 476.6 706.4 480.5 726.5 477.2 C746.7 473.9 766.9 463.1 787.0 456.5 C807.1 449.9 827.3 434.3 847.5 437.9 C867.6 441.5 887.8 473.9 907.9 478.1 C928.0 482.3 958.3 465.8 968.4 463.3" fill="none" stroke="#2d6a3f" stroke-width="2.2" stroke-linecap="round"/>
<ellipse cx="304.4" cy="485.2" rx="12" ry="10" fill="#66756c" opacity="0.55" filter="url(#glow)"/>
<path d="M292.9 480.6 V489.9 A6.2 2.4 0 0 0 305.3 489.9 V480.6Z" fill="#4f8f6e" stroke="#215a37" stroke-width="1.1"/><path d="M292.9 483.7 A6.2 2.4 0 0 0 305.3 483.7" fill="none" stroke="#215a37" stroke-width="1"/><path d="M292.9 486.8 A6.2 2.4 0 0 0 305.3 486.8" fill="none" stroke="#215a37" stroke-width="1"/><path d="M293.9 482.3 A5.2 2.4 0 0 0 304.3 482.3" fill="none" stroke="#b9dcc8" stroke-width="0.7" stroke-dasharray="1.1 1"/><path d="M293.9 485.4 A5.2 2.4 0 0 0 304.3 485.4" fill="none" stroke="#b9dcc8" stroke-width="0.7" stroke-dasharray="1.1 1"/><path d="M293.9 488.5 A5.2 2.4 0 0 0 304.3 488.5" fill="none" stroke="#b9dcc8" stroke-width="0.7" stroke-dasharray="1.1 1"/><ellipse cx="299.1" cy="480.6" rx="6.2" ry="2.4" fill="#7fb496" stroke="#215a37" stroke-width="1.1"/><path d="M300.2 488.6 V494.4 A6.8 2.5 0 0 0 313.8 494.4 V488.6Z" fill="#4f8f6e" stroke="#215a37" stroke-width="1.1"/><path d="M300.2 491.5 A6.8 2.5 0 0 0 313.8 491.5" fill="none" stroke="#215a37" stroke-width="1"/><path d="M301.2 490.2 A5.8 2.5 0 0 0 312.8 490.2" fill="none" stroke="#b9dcc8" stroke-width="0.7" stroke-dasharray="1.1 1"/><path d="M301.2 493.1 A5.8 2.5 0 0 0 312.8 493.1" fill="none" stroke="#b9dcc8" stroke-width="0.7" stroke-dasharray="1.1 1"/><ellipse cx="307.0" cy="488.6" rx="6.8" ry="2.5" fill="#7fb496" stroke="#215a37" stroke-width="1.1"/>
<text x="303.79999999999995" y="465.5" font-size="10.2" font-weight="bold" fill="#1e1e1e" text-anchor="middle" textLength="23.5" lengthAdjust="spacingAndGlyphs" stroke="#1e1e1e" stroke-width="0.3">$832</text>
<text x="303.4" y="586.5" font-size="10" font-weight="bold" fill="#1e1e1e" text-anchor="middle" textLength="14.5" lengthAdjust="spacingAndGlyphs" stroke="#1e1e1e" stroke-width="0.3">Jan</text>
<ellipse cx="364.8" cy="484.3" rx="12" ry="10" fill="#66756c" opacity="0.55" filter="url(#glow)"/>
<path d="M353.3 479.7 V489.0 A6.2 2.4 0 0 0 365.7 489.0 V479.7Z" fill="#4f8f6e" stroke="#215a37" stroke-width="1.1"/><path d="M353.3 482.8 A6.2 2.4 0 0 0 365.7 482.8" fill="none" stroke="#215a37" stroke-width="1"/><path d="M353.3 485.9 A6.2 2.4 0 0 0 365.7 485.9" fill="none" stroke="#215a37" stroke-width="1"/><path d="M354.3 481.4 A5.2 2.4 0 0 0 364.7 481.4" fill="none" stroke="#b9dcc8" stroke-width="0.7" stroke-dasharray="1.1 1"/><path d="M354.3 484.5 A5.2 2.4 0 0 0 364.7 484.5" fill="none" stroke="#b9dcc8" stroke-width="0.7" stroke-dasharray="1.1 1"/><path d="M354.3 487.6 A5.2 2.4 0 0 0 364.7 487.6" fill="none" stroke="#b9dcc8" stroke-width="0.7" stroke-dasharray="1.1 1"/><ellipse cx="359.5" cy="479.7" rx="6.2" ry="2.4" fill="#7fb496" stroke="#215a37" stroke-width="1.1"/><path d="M360.6 487.7 V493.5 A6.8 2.5 0 0 0 374.2 493.5 V487.7Z" fill="#4f8f6e" stroke="#215a37" stroke-width="1.1"/><path d="M360.6 490.6 A6.8 2.5 0 0 0 374.2 490.6" fill="none" stroke="#215a37" stroke-width="1"/><path d="M361.6 489.3 A5.8 2.5 0 0 0 373.2 489.3" fill="none" stroke="#b9dcc8" stroke-width="0.7" stroke-dasharray="1.1 1"/><path d="M361.6 492.2 A5.8 2.5 0 0 0 373.2 492.2" fill="none" stroke="#b9dcc8" stroke-width="0.7" stroke-dasharray="1.1 1"/><ellipse cx="367.4" cy="487.7" rx="6.8" ry="2.5" fill="#7fb496" stroke="#215a37" stroke-width="1.1"/>
<text x="364.24999999999994" y="464.6" font-size="10.2" font-weight="bold" fill="#1e1e1e" text-anchor="middle" textLength="23.5" lengthAdjust="spacingAndGlyphs" stroke="#1e1e1e" stroke-width="0.3">$847</text>
<text x="363.84999999999997" y="586.5" font-size="10" font-weight="bold" fill="#1e1e1e" text-anchor="middle" textLength="16.5" lengthAdjust="spacingAndGlyphs" stroke="#1e1e1e" stroke-width="0.3">Feb</text>
<ellipse cx="425.3" cy="468.6" rx="12" ry="10" fill="#66756c" opacity="0.55" filter="url(#glow)"/>
<path d="M413.8 464.0 V473.3 A6.2 2.4 0 0 0 426.2 473.3 V464.0Z" fill="#4f8f6e" stroke="#215a37" stroke-width="1.1"/><path d="M413.8 467.1 A6.2 2.4 0 0 0 426.2 467.1" fill="none" stroke="#215a37" stroke-width="1"/><path d="M413.8 470.2 A6.2 2.4 0 0 0 426.2 470.2" fill="none" stroke="#215a37" stroke-width="1"/><path d="M414.8 465.7 A5.2 2.4 0 0 0 425.2 465.7" fill="none" stroke="#b9dcc8" stroke-width="0.7" stroke-dasharray="1.1 1"/><path d="M414.8 468.8 A5.2 2.4 0 0 0 425.2 468.8" fill="none" stroke="#b9dcc8" stroke-width="0.7" stroke-dasharray="1.1 1"/><path d="M414.8 471.9 A5.2 2.4 0 0 0 425.2 471.9" fill="none" stroke="#b9dcc8" stroke-width="0.7" stroke-dasharray="1.1 1"/><ellipse cx="420.0" cy="464.0" rx="6.2" ry="2.4" fill="#7fb496" stroke="#215a37" stroke-width="1.1"/><path d="M421.1 472.0 V477.8 A6.8 2.5 0 0 0 434.7 477.8 V472.0Z" fill="#4f8f6e" stroke="#215a37" stroke-width="1.1"/><path d="M421.1 474.9 A6.8 2.5 0 0 0 434.7 474.9" fill="none" stroke="#215a37" stroke-width="1"/><path d="M422.1 473.6 A5.8 2.5 0 0 0 433.7 473.6" fill="none" stroke="#b9dcc8" stroke-width="0.7" stroke-dasharray="1.1 1"/><path d="M422.1 476.5 A5.8 2.5 0 0 0 433.7 476.5" fill="none" stroke="#b9dcc8" stroke-width="0.7" stroke-dasharray="1.1 1"/><ellipse cx="427.9" cy="472.0" rx="6.8" ry="2.5" fill="#7fb496" stroke="#215a37" stroke-width="1.1"/>
<text x="424.69999999999993" y="448.90000000000003" font-size="10.2" font-weight="bold" fill="#1e1e1e" text-anchor="middle" textLength="25.7" lengthAdjust="spacingAndGlyphs" stroke="#1e1e1e" stroke-width="0.3">$1.0K</text>
<text x="424.29999999999995" y="586.5" font-size="10" font-weight="bold" fill="#1e1e1e" text-anchor="middle" textLength="17" lengthAdjust="spacingAndGlyphs" stroke="#1e1e1e" stroke-width="0.3">Mar</text>
<ellipse cx="485.8" cy="486.0" rx="12" ry="10" fill="#66756c" opacity="0.55" filter="url(#glow)"/>
<path d="M474.2 481.4 V490.7 A6.2 2.4 0 0 0 486.6 490.7 V481.4Z" fill="#4f8f6e" stroke="#215a37" stroke-width="1.1"/><path d="M474.2 484.5 A6.2 2.4 0 0 0 486.6 484.5" fill="none" stroke="#215a37" stroke-width="1"/><path d="M474.2 487.6 A6.2 2.4 0 0 0 486.6 487.6" fill="none" stroke="#215a37" stroke-width="1"/><path d="M475.2 483.1 A5.2 2.4 0 0 0 485.6 483.1" fill="none" stroke="#b9dcc8" stroke-width="0.7" stroke-dasharray="1.1 1"/><path d="M475.2 486.2 A5.2 2.4 0 0 0 485.6 486.2" fill="none" stroke="#b9dcc8" stroke-width="0.7" stroke-dasharray="1.1 1"/><path d="M475.2 489.3 A5.2 2.4 0 0 0 485.6 489.3" fill="none" stroke="#b9dcc8" stroke-width="0.7" stroke-dasharray="1.1 1"/><ellipse cx="480.4" cy="481.4" rx="6.2" ry="2.4" fill="#7fb496" stroke="#215a37" stroke-width="1.1"/><path d="M481.6 489.4 V495.2 A6.8 2.5 0 0 0 495.2 495.2 V489.4Z" fill="#4f8f6e" stroke="#215a37" stroke-width="1.1"/><path d="M481.6 492.3 A6.8 2.5 0 0 0 495.2 492.3" fill="none" stroke="#215a37" stroke-width="1"/><path d="M482.6 491.0 A5.8 2.5 0 0 0 494.2 491.0" fill="none" stroke="#b9dcc8" stroke-width="0.7" stroke-dasharray="1.1 1"/><path d="M482.6 493.9 A5.8 2.5 0 0 0 494.2 493.9" fill="none" stroke="#b9dcc8" stroke-width="0.7" stroke-dasharray="1.1 1"/><ellipse cx="488.4" cy="489.4" rx="6.8" ry="2.5" fill="#7fb496" stroke="#215a37" stroke-width="1.1"/>
<text x="485.15" y="466.3" font-size="10.2" font-weight="bold" fill="#1e1e1e" text-anchor="middle" textLength="23.5" lengthAdjust="spacingAndGlyphs" stroke="#1e1e1e" stroke-width="0.3">$823</text>
<text x="484.75" y="586.5" font-size="10" font-weight="bold" fill="#1e1e1e" text-anchor="middle" textLength="15.5" lengthAdjust="spacingAndGlyphs" stroke="#1e1e1e" stroke-width="0.3">Apr</text>
<ellipse cx="546.2" cy="446.8" rx="12" ry="10" fill="#66756c" opacity="0.55" filter="url(#glow)"/>
<path d="M534.7 442.2 V451.5 A6.2 2.4 0 0 0 547.1 451.5 V442.2Z" fill="#4f8f6e" stroke="#215a37" stroke-width="1.1"/><path d="M534.7 445.3 A6.2 2.4 0 0 0 547.1 445.3" fill="none" stroke="#215a37" stroke-width="1"/><path d="M534.7 448.4 A6.2 2.4 0 0 0 547.1 448.4" fill="none" stroke="#215a37" stroke-width="1"/><path d="M535.7 443.9 A5.2 2.4 0 0 0 546.1 443.9" fill="none" stroke="#b9dcc8" stroke-width="0.7" stroke-dasharray="1.1 1"/><path d="M535.7 447.0 A5.2 2.4 0 0 0 546.1 447.0" fill="none" stroke="#b9dcc8" stroke-width="0.7" stroke-dasharray="1.1 1"/><path d="M535.7 450.1 A5.2 2.4 0 0 0 546.1 450.1" fill="none" stroke="#b9dcc8" stroke-width="0.7" stroke-dasharray="1.1 1"/><ellipse cx="540.9" cy="442.2" rx="6.2" ry="2.4" fill="#7fb496" stroke="#215a37" stroke-width="1.1"/><path d="M542.0 450.2 V456.0 A6.8 2.5 0 0 0 555.6 456.0 V450.2Z" fill="#4f8f6e" stroke="#215a37" stroke-width="1.1"/><path d="M542.0 453.1 A6.8 2.5 0 0 0 555.6 453.1" fill="none" stroke="#215a37" stroke-width="1"/><path d="M543.0 451.8 A5.8 2.5 0 0 0 554.6 451.8" fill="none" stroke="#b9dcc8" stroke-width="0.7" stroke-dasharray="1.1 1"/><path d="M543.0 454.7 A5.8 2.5 0 0 0 554.6 454.7" fill="none" stroke="#b9dcc8" stroke-width="0.7" stroke-dasharray="1.1 1"/><ellipse cx="548.8" cy="450.2" rx="6.8" ry="2.5" fill="#7fb496" stroke="#215a37" stroke-width="1.1"/>
<text x="545.6" y="427.1" font-size="10.2" font-weight="bold" fill="#1e1e1e" text-anchor="middle" textLength="25.7" lengthAdjust="spacingAndGlyphs" stroke="#1e1e1e" stroke-width="0.3">$1.2K</text>
<text x="545.2" y="586.5" font-size="10" font-weight="bold" fill="#1e1e1e" text-anchor="middle" textLength="18" lengthAdjust="spacingAndGlyphs" stroke="#1e1e1e" stroke-width="0.3">May</text>
<ellipse cx="606.6" cy="473.5" rx="12" ry="10" fill="#66756c" opacity="0.55" filter="url(#glow)"/>
<path d="M595.1 468.9 V478.2 A6.2 2.4 0 0 0 607.6 478.2 V468.9Z" fill="#4f8f6e" stroke="#215a37" stroke-width="1.1"/><path d="M595.1 472.0 A6.2 2.4 0 0 0 607.6 472.0" fill="none" stroke="#215a37" stroke-width="1"/><path d="M595.1 475.1 A6.2 2.4 0 0 0 607.6 475.1" fill="none" stroke="#215a37" stroke-width="1"/><path d="M596.1 470.6 A5.2 2.4 0 0 0 606.6 470.6" fill="none" stroke="#b9dcc8" stroke-width="0.7" stroke-dasharray="1.1 1"/><path d="M596.1 473.7 A5.2 2.4 0 0 0 606.6 473.7" fill="none" stroke="#b9dcc8" stroke-width="0.7" stroke-dasharray="1.1 1"/><path d="M596.1 476.8 A5.2 2.4 0 0 0 606.6 476.8" fill="none" stroke="#b9dcc8" stroke-width="0.7" stroke-dasharray="1.1 1"/><ellipse cx="601.4" cy="468.9" rx="6.2" ry="2.4" fill="#7fb496" stroke="#215a37" stroke-width="1.1"/><path d="M602.5 476.9 V482.7 A6.8 2.5 0 0 0 616.0 482.7 V476.9Z" fill="#4f8f6e" stroke="#215a37" stroke-width="1.1"/><path d="M602.5 479.8 A6.8 2.5 0 0 0 616.0 479.8" fill="none" stroke="#215a37" stroke-width="1"/><path d="M603.5 478.5 A5.8 2.5 0 0 0 615.0 478.5" fill="none" stroke="#b9dcc8" stroke-width="0.7" stroke-dasharray="1.1 1"/><path d="M603.5 481.4 A5.8 2.5 0 0 0 615.0 481.4" fill="none" stroke="#b9dcc8" stroke-width="0.7" stroke-dasharray="1.1 1"/><ellipse cx="609.2" cy="476.9" rx="6.8" ry="2.5" fill="#7fb496" stroke="#215a37" stroke-width="1.1"/>
<text x="606.05" y="453.8" font-size="10.2" font-weight="bold" fill="#1e1e1e" text-anchor="middle" textLength="23.5" lengthAdjust="spacingAndGlyphs" stroke="#1e1e1e" stroke-width="0.3">$952</text>
<text x="605.65" y="586.5" font-size="10" font-weight="bold" fill="#1e1e1e" text-anchor="middle" textLength="15" lengthAdjust="spacingAndGlyphs" stroke="#1e1e1e" stroke-width="0.3">Jun</text>
<ellipse cx="667.1" cy="474.3" rx="12" ry="10" fill="#66756c" opacity="0.55" filter="url(#glow)"/>
<path d="M655.6 469.7 V479.0 A6.2 2.4 0 0 0 668.0 479.0 V469.7Z" fill="#4f8f6e" stroke="#215a37" stroke-width="1.1"/><path d="M655.6 472.8 A6.2 2.4 0 0 0 668.0 472.8" fill="none" stroke="#215a37" stroke-width="1"/><path d="M655.6 475.9 A6.2 2.4 0 0 0 668.0 475.9" fill="none" stroke="#215a37" stroke-width="1"/><path d="M656.6 471.4 A5.2 2.4 0 0 0 667.0 471.4" fill="none" stroke="#b9dcc8" stroke-width="0.7" stroke-dasharray="1.1 1"/><path d="M656.6 474.5 A5.2 2.4 0 0 0 667.0 474.5" fill="none" stroke="#b9dcc8" stroke-width="0.7" stroke-dasharray="1.1 1"/><path d="M656.6 477.6 A5.2 2.4 0 0 0 667.0 477.6" fill="none" stroke="#b9dcc8" stroke-width="0.7" stroke-dasharray="1.1 1"/><ellipse cx="661.8" cy="469.7" rx="6.2" ry="2.4" fill="#7fb496" stroke="#215a37" stroke-width="1.1"/><path d="M662.9 477.7 V483.5 A6.8 2.5 0 0 0 676.5 483.5 V477.7Z" fill="#4f8f6e" stroke="#215a37" stroke-width="1.1"/><path d="M662.9 480.6 A6.8 2.5 0 0 0 676.5 480.6" fill="none" stroke="#215a37" stroke-width="1"/><path d="M663.9 479.3 A5.8 2.5 0 0 0 675.5 479.3" fill="none" stroke="#b9dcc8" stroke-width="0.7" stroke-dasharray="1.1 1"/><path d="M663.9 482.2 A5.8 2.5 0 0 0 675.5 482.2" fill="none" stroke="#b9dcc8" stroke-width="0.7" stroke-dasharray="1.1 1"/><ellipse cx="669.7" cy="477.7" rx="6.8" ry="2.5" fill="#7fb496" stroke="#215a37" stroke-width="1.1"/>
<text x="666.5" y="454.6" font-size="10.2" font-weight="bold" fill="#1e1e1e" text-anchor="middle" textLength="23.5" lengthAdjust="spacingAndGlyphs" stroke="#1e1e1e" stroke-width="0.3">$944</text>
<text x="666.1" y="586.5" font-size="10" font-weight="bold" fill="#1e1e1e" text-anchor="middle" textLength="12.5" lengthAdjust="spacingAndGlyphs" stroke="#1e1e1e" stroke-width="0.3">Jul</text>
<ellipse cx="727.5" cy="475.2" rx="12" ry="10" fill="#66756c" opacity="0.55" filter="url(#glow)"/>
<path d="M716.0 470.6 V479.9 A6.2 2.4 0 0 0 728.5 479.9 V470.6Z" fill="#4f8f6e" stroke="#215a37" stroke-width="1.1"/><path d="M716.0 473.7 A6.2 2.4 0 0 0 728.5 473.7" fill="none" stroke="#215a37" stroke-width="1"/><path d="M716.0 476.8 A6.2 2.4 0 0 0 728.5 476.8" fill="none" stroke="#215a37" stroke-width="1"/><path d="M717.0 472.3 A5.2 2.4 0 0 0 727.5 472.3" fill="none" stroke="#b9dcc8" stroke-width="0.7" stroke-dasharray="1.1 1"/><path d="M717.0 475.4 A5.2 2.4 0 0 0 727.5 475.4" fill="none" stroke="#b9dcc8" stroke-width="0.7" stroke-dasharray="1.1 1"/><path d="M717.0 478.5 A5.2 2.4 0 0 0 727.5 478.5" fill="none" stroke="#b9dcc8" stroke-width="0.7" stroke-dasharray="1.1 1"/><ellipse cx="722.2" cy="470.6" rx="6.2" ry="2.4" fill="#7fb496" stroke="#215a37" stroke-width="1.1"/><path d="M723.4 478.6 V484.4 A6.8 2.5 0 0 0 736.9 484.4 V478.6Z" fill="#4f8f6e" stroke="#215a37" stroke-width="1.1"/><path d="M723.4 481.5 A6.8 2.5 0 0 0 736.9 481.5" fill="none" stroke="#215a37" stroke-width="1"/><path d="M724.4 480.2 A5.8 2.5 0 0 0 735.9 480.2" fill="none" stroke="#b9dcc8" stroke-width="0.7" stroke-dasharray="1.1 1"/><path d="M724.4 483.1 A5.8 2.5 0 0 0 735.9 483.1" fill="none" stroke="#b9dcc8" stroke-width="0.7" stroke-dasharray="1.1 1"/><ellipse cx="730.1" cy="478.6" rx="6.8" ry="2.5" fill="#7fb496" stroke="#215a37" stroke-width="1.1"/>
<text x="726.9499999999999" y="455.5" font-size="10.2" font-weight="bold" fill="#1e1e1e" text-anchor="middle" textLength="23.5" lengthAdjust="spacingAndGlyphs" stroke="#1e1e1e" stroke-width="0.3">$935</text>
<text x="726.55" y="586.5" font-size="10" font-weight="bold" fill="#1e1e1e" text-anchor="middle" textLength="17" lengthAdjust="spacingAndGlyphs" stroke="#1e1e1e" stroke-width="0.3">Aug</text>
<ellipse cx="788.0" cy="454.5" rx="12" ry="10" fill="#66756c" opacity="0.55" filter="url(#glow)"/>
<path d="M776.5 449.9 V459.2 A6.2 2.4 0 0 0 788.9 459.2 V449.9Z" fill="#4f8f6e" stroke="#215a37" stroke-width="1.1"/><path d="M776.5 453.0 A6.2 2.4 0 0 0 788.9 453.0" fill="none" stroke="#215a37" stroke-width="1"/><path d="M776.5 456.1 A6.2 2.4 0 0 0 788.9 456.1" fill="none" stroke="#215a37" stroke-width="1"/><path d="M777.5 451.6 A5.2 2.4 0 0 0 787.9 451.6" fill="none" stroke="#b9dcc8" stroke-width="0.7" stroke-dasharray="1.1 1"/><path d="M777.5 454.7 A5.2 2.4 0 0 0 787.9 454.7" fill="none" stroke="#b9dcc8" stroke-width="0.7" stroke-dasharray="1.1 1"/><path d="M777.5 457.8 A5.2 2.4 0 0 0 787.9 457.8" fill="none" stroke="#b9dcc8" stroke-width="0.7" stroke-dasharray="1.1 1"/><ellipse cx="782.7" cy="449.9" rx="6.2" ry="2.4" fill="#7fb496" stroke="#215a37" stroke-width="1.1"/><path d="M783.8 457.9 V463.7 A6.8 2.5 0 0 0 797.4 463.7 V457.9Z" fill="#4f8f6e" stroke="#215a37" stroke-width="1.1"/><path d="M783.8 460.8 A6.8 2.5 0 0 0 797.4 460.8" fill="none" stroke="#215a37" stroke-width="1"/><path d="M784.8 459.5 A5.8 2.5 0 0 0 796.4 459.5" fill="none" stroke="#b9dcc8" stroke-width="0.7" stroke-dasharray="1.1 1"/><path d="M784.8 462.4 A5.8 2.5 0 0 0 796.4 462.4" fill="none" stroke="#b9dcc8" stroke-width="0.7" stroke-dasharray="1.1 1"/><ellipse cx="790.6" cy="457.9" rx="6.8" ry="2.5" fill="#7fb496" stroke="#215a37" stroke-width="1.1"/>
<text x="787.4" y="434.8" font-size="10.2" font-weight="bold" fill="#1e1e1e" text-anchor="middle" textLength="25.7" lengthAdjust="spacingAndGlyphs" stroke="#1e1e1e" stroke-width="0.3">$1.1K</text>
<text x="787.0" y="586.5" font-size="10" font-weight="bold" fill="#1e1e1e" text-anchor="middle" textLength="17" lengthAdjust="spacingAndGlyphs" stroke="#1e1e1e" stroke-width="0.3">Sep</text>
<ellipse cx="848.5" cy="435.9" rx="12" ry="10" fill="#66756c" opacity="0.55" filter="url(#glow)"/>
<path d="M837.0 431.3 V440.6 A6.2 2.4 0 0 0 849.4 440.6 V431.3Z" fill="#4f8f6e" stroke="#215a37" stroke-width="1.1"/><path d="M837.0 434.4 A6.2 2.4 0 0 0 849.4 434.4" fill="none" stroke="#215a37" stroke-width="1"/><path d="M837.0 437.5 A6.2 2.4 0 0 0 849.4 437.5" fill="none" stroke="#215a37" stroke-width="1"/><path d="M838.0 433.0 A5.2 2.4 0 0 0 848.4 433.0" fill="none" stroke="#b9dcc8" stroke-width="0.7" stroke-dasharray="1.1 1"/><path d="M838.0 436.1 A5.2 2.4 0 0 0 848.4 436.1" fill="none" stroke="#b9dcc8" stroke-width="0.7" stroke-dasharray="1.1 1"/><path d="M838.0 439.2 A5.2 2.4 0 0 0 848.4 439.2" fill="none" stroke="#b9dcc8" stroke-width="0.7" stroke-dasharray="1.1 1"/><ellipse cx="843.2" cy="431.3" rx="6.2" ry="2.4" fill="#7fb496" stroke="#215a37" stroke-width="1.1"/><path d="M844.3 439.3 V445.1 A6.8 2.5 0 0 0 857.9 445.1 V439.3Z" fill="#4f8f6e" stroke="#215a37" stroke-width="1.1"/><path d="M844.3 442.2 A6.8 2.5 0 0 0 857.9 442.2" fill="none" stroke="#215a37" stroke-width="1"/><path d="M845.3 440.9 A5.8 2.5 0 0 0 856.9 440.9" fill="none" stroke="#b9dcc8" stroke-width="0.7" stroke-dasharray="1.1 1"/><path d="M845.3 443.8 A5.8 2.5 0 0 0 856.9 443.8" fill="none" stroke="#b9dcc8" stroke-width="0.7" stroke-dasharray="1.1 1"/><ellipse cx="851.1" cy="439.3" rx="6.8" ry="2.5" fill="#7fb496" stroke="#215a37" stroke-width="1.1"/>
<text x="847.85" y="416.2" font-size="10.2" font-weight="bold" fill="#1e1e1e" text-anchor="middle" textLength="25.7" lengthAdjust="spacingAndGlyphs" stroke="#1e1e1e" stroke-width="0.3">$1.3K</text>
<text x="847.45" y="586.5" font-size="10" font-weight="bold" fill="#1e1e1e" text-anchor="middle" textLength="15.5" lengthAdjust="spacingAndGlyphs" stroke="#1e1e1e" stroke-width="0.3">Oct</text>
<ellipse cx="908.9" cy="476.1" rx="12" ry="10" fill="#66756c" opacity="0.55" filter="url(#glow)"/>
<path d="M897.4 471.5 V480.8 A6.2 2.4 0 0 0 909.8 480.8 V471.5Z" fill="#4f8f6e" stroke="#215a37" stroke-width="1.1"/><path d="M897.4 474.6 A6.2 2.4 0 0 0 909.8 474.6" fill="none" stroke="#215a37" stroke-width="1"/><path d="M897.4 477.7 A6.2 2.4 0 0 0 909.8 477.7" fill="none" stroke="#215a37" stroke-width="1"/><path d="M898.4 473.2 A5.2 2.4 0 0 0 908.8 473.2" fill="none" stroke="#b9dcc8" stroke-width="0.7" stroke-dasharray="1.1 1"/><path d="M898.4 476.3 A5.2 2.4 0 0 0 908.8 476.3" fill="none" stroke="#b9dcc8" stroke-width="0.7" stroke-dasharray="1.1 1"/><path d="M898.4 479.4 A5.2 2.4 0 0 0 908.8 479.4" fill="none" stroke="#b9dcc8" stroke-width="0.7" stroke-dasharray="1.1 1"/><ellipse cx="903.6" cy="471.5" rx="6.2" ry="2.4" fill="#7fb496" stroke="#215a37" stroke-width="1.1"/><path d="M904.7 479.5 V485.3 A6.8 2.5 0 0 0 918.3 485.3 V479.5Z" fill="#4f8f6e" stroke="#215a37" stroke-width="1.1"/><path d="M904.7 482.4 A6.8 2.5 0 0 0 918.3 482.4" fill="none" stroke="#215a37" stroke-width="1"/><path d="M905.7 481.1 A5.8 2.5 0 0 0 917.3 481.1" fill="none" stroke="#b9dcc8" stroke-width="0.7" stroke-dasharray="1.1 1"/><path d="M905.7 484.0 A5.8 2.5 0 0 0 917.3 484.0" fill="none" stroke="#b9dcc8" stroke-width="0.7" stroke-dasharray="1.1 1"/><ellipse cx="911.5" cy="479.5" rx="6.8" ry="2.5" fill="#7fb496" stroke="#215a37" stroke-width="1.1"/>
<text x="908.3" y="456.40000000000003" font-size="10.2" font-weight="bold" fill="#1e1e1e" text-anchor="middle" textLength="23.5" lengthAdjust="spacingAndGlyphs" stroke="#1e1e1e" stroke-width="0.3">$926</text>
<text x="907.9" y="586.5" font-size="10" font-weight="bold" fill="#1e1e1e" text-anchor="middle" textLength="17.5" lengthAdjust="spacingAndGlyphs" stroke="#1e1e1e" stroke-width="0.3">Nov</text>
<ellipse cx="969.4" cy="461.3" rx="12" ry="10" fill="#66756c" opacity="0.55" filter="url(#glow)"/>
<path d="M957.9 456.7 V466.0 A6.2 2.4 0 0 0 970.3 466.0 V456.7Z" fill="#4f8f6e" stroke="#215a37" stroke-width="1.1"/><path d="M957.9 459.8 A6.2 2.4 0 0 0 970.3 459.8" fill="none" stroke="#215a37" stroke-width="1"/><path d="M957.9 462.9 A6.2 2.4 0 0 0 970.3 462.9" fill="none" stroke="#215a37" stroke-width="1"/><path d="M958.9 458.4 A5.2 2.4 0 0 0 969.3 458.4" fill="none" stroke="#b9dcc8" stroke-width="0.7" stroke-dasharray="1.1 1"/><path d="M958.9 461.5 A5.2 2.4 0 0 0 969.3 461.5" fill="none" stroke="#b9dcc8" stroke-width="0.7" stroke-dasharray="1.1 1"/><path d="M958.9 464.6 A5.2 2.4 0 0 0 969.3 464.6" fill="none" stroke="#b9dcc8" stroke-width="0.7" stroke-dasharray="1.1 1"/><ellipse cx="964.1" cy="456.7" rx="6.2" ry="2.4" fill="#7fb496" stroke="#215a37" stroke-width="1.1"/><path d="M965.2 464.7 V470.5 A6.8 2.5 0 0 0 978.8 470.5 V464.7Z" fill="#4f8f6e" stroke="#215a37" stroke-width="1.1"/><path d="M965.2 467.6 A6.8 2.5 0 0 0 978.8 467.6" fill="none" stroke="#215a37" stroke-width="1"/><path d="M966.2 466.3 A5.8 2.5 0 0 0 977.8 466.3" fill="none" stroke="#b9dcc8" stroke-width="0.7" stroke-dasharray="1.1 1"/><path d="M966.2 469.2 A5.8 2.5 0 0 0 977.8 469.2" fill="none" stroke="#b9dcc8" stroke-width="0.7" stroke-dasharray="1.1 1"/><ellipse cx="972.0" cy="464.7" rx="6.8" ry="2.5" fill="#7fb496" stroke="#215a37" stroke-width="1.1"/>
<text x="968.75" y="441.6" font-size="10.2" font-weight="bold" fill="#1e1e1e" text-anchor="middle" textLength="25.7" lengthAdjust="spacingAndGlyphs" stroke="#1e1e1e" stroke-width="0.3">$1.1K</text>
<text x="968.35" y="586.5" font-size="10" font-weight="bold" fill="#1e1e1e" text-anchor="middle" textLength="16.5" lengthAdjust="spacingAndGlyphs" stroke="#1e1e1e" stroke-width="0.3">Dec</text>
<text x="1025.6" y="78.4" font-size="10.6" font-weight="bold" fill="#1e1e1e" textLength="20.5" lengthAdjust="spacingAndGlyphs">Year</text>
<rect x="1025.1" y="86.9" width="190" height="1.2" fill="#86c0b6"/>
<g fill="none" stroke="#4a4a4a" stroke-width="1.1" stroke-linecap="round" stroke-linejoin="round"><path d="M1179.5 70.1 l2 2 l4.6 -4.6"/><path d="M1188.7 69.9 H1195.7"/><path d="M1179.5 75.3 l2 2 l4.6 -4.6"/><path d="M1188.7 75.1 H1195.7"/><path d="M1179.5 80.5 l2 2 l4.6 -4.6"/><path d="M1188.7 80.3 H1195.7"/></g>
<rect x="1026.4" y="93.3" width="46.7" height="24.9" rx="2" fill="url(#gBtn)" stroke="#1c4a2a" stroke-width="0.8"/>
<text x="1034.9" y="109.85" font-size="10.5" font-weight="bold" fill="#ffffff" textLength="23.4" lengthAdjust="spacingAndGlyphs">2024</text>
<rect x="1079.0" y="93.3" width="46.5" height="24.9" rx="2" fill="url(#gBtn)" stroke="#1c4a2a" stroke-width="0.8"/>
<text x="1087.4" y="109.85" font-size="10.5" font-weight="bold" fill="#ffffff" textLength="23.4" lengthAdjust="spacingAndGlyphs">2025</text>
<text x="1025.6" y="144.2" font-size="10.6" font-weight="bold" fill="#1e1e1e" textLength="29" lengthAdjust="spacingAndGlyphs">Month</text>
<rect x="1025.1" y="152.4" width="190" height="1.2" fill="#86c0b6"/>
<g fill="none" stroke="#4a4a4a" stroke-width="1.1" stroke-linecap="round" stroke-linejoin="round"><path d="M1179.5 135.9 l2 2 l4.6 -4.6"/><path d="M1188.7 135.7 H1195.7"/><path d="M1179.5 141.1 l2 2 l4.6 -4.6"/><path d="M1188.7 140.9 H1195.7"/><path d="M1179.5 146.3 l2 2 l4.6 -4.6"/><path d="M1188.7 146.1 H1195.7"/></g>
<rect x="1026.4" y="158.8" width="64.2" height="24.9" rx="2" fill="url(#gBtn)" stroke="#1c4a2a" stroke-width="0.8"/>
<text x="1035" y="175.15" font-size="10.3" font-weight="bold" fill="#e6efe6" textLength="14.5" lengthAdjust="spacingAndGlyphs">Jan</text>
<rect x="1096.6" y="158.8" width="64.1" height="24.9" rx="2" fill="url(#gBtn)" stroke="#1c4a2a" stroke-width="0.8"/>
<text x="1105.2" y="175.15" font-size="10.3" font-weight="bold" fill="#e6efe6" textLength="16.5" lengthAdjust="spacingAndGlyphs">Feb</text>
<rect x="1166.7" y="158.8" width="59.2" height="24.9" rx="2" fill="url(#gBtn)" stroke="#1c4a2a" stroke-width="0.8"/>
<text x="1175.3" y="175.15" font-size="10.3" font-weight="bold" fill="#e6efe6" textLength="17" lengthAdjust="spacingAndGlyphs">Mar</text>
<rect x="1026.4" y="190.0" width="64.2" height="24.9" rx="2" fill="url(#gBtn)" stroke="#1c4a2a" stroke-width="0.8"/>
<text x="1035" y="206.35" font-size="10.3" font-weight="bold" fill="#e6efe6" textLength="15.5" lengthAdjust="spacingAndGlyphs">Apr</text>
<rect x="1096.6" y="190.0" width="64.1" height="24.9" rx="2" fill="url(#gBtn)" stroke="#1c4a2a" stroke-width="0.8"/>
<text x="1105.2" y="206.35" font-size="10.3" font-weight="bold" fill="#e6efe6" textLength="18" lengthAdjust="spacingAndGlyphs">May</text>
<rect x="1166.7" y="190.0" width="59.2" height="24.9" rx="2" fill="url(#gBtn)" stroke="#1c4a2a" stroke-width="0.8"/>
<text x="1175.3" y="206.35" font-size="10.3" font-weight="bold" fill="#e6efe6" textLength="15" lengthAdjust="spacingAndGlyphs">Jun</text>
<rect x="1026.4" y="221.2" width="64.2" height="24.9" rx="2" fill="url(#gBtn)" stroke="#1c4a2a" stroke-width="0.8"/>
<text x="1035" y="237.55" font-size="10.3" font-weight="bold" fill="#e6efe6" textLength="12.5" lengthAdjust="spacingAndGlyphs">Jul</text>
<rect x="1096.6" y="221.2" width="64.1" height="24.9" rx="2" fill="url(#gBtn)" stroke="#1c4a2a" stroke-width="0.8"/>
<text x="1105.2" y="237.55" font-size="10.3" font-weight="bold" fill="#e6efe6" textLength="17" lengthAdjust="spacingAndGlyphs">Aug</text>
<rect x="1166.7" y="221.2" width="59.2" height="24.9" rx="2" fill="url(#gBtn)" stroke="#1c4a2a" stroke-width="0.8"/>
<text x="1175.3" y="237.55" font-size="10.3" font-weight="bold" fill="#e6efe6" textLength="17" lengthAdjust="spacingAndGlyphs">Sep</text>
<rect x="1026.4" y="252.4" width="64.2" height="24.9" rx="2" fill="url(#gBtn)" stroke="#1c4a2a" stroke-width="0.8"/>
<text x="1035" y="268.75000000000006" font-size="10.3" font-weight="bold" fill="#e6efe6" textLength="15.5" lengthAdjust="spacingAndGlyphs">Oct</text>
<rect x="1096.6" y="252.4" width="64.1" height="24.9" rx="2" fill="url(#gBtn)" stroke="#1c4a2a" stroke-width="0.8"/>
<text x="1105.2" y="268.75000000000006" font-size="10.3" font-weight="bold" fill="#e6efe6" textLength="17.5" lengthAdjust="spacingAndGlyphs">Nov</text>
<rect x="1166.7" y="252.4" width="59.2" height="24.9" rx="2" fill="url(#gBtn)" stroke="#1c4a2a" stroke-width="0.8"/>
<text x="1175.3" y="268.75000000000006" font-size="10.3" font-weight="bold" fill="#e6efe6" textLength="16.5" lengthAdjust="spacingAndGlyphs">Dec</text>
<text x="1026.5" y="303.4" font-size="10.6" font-weight="bold" fill="#1e1e1e" textLength="40.5" lengthAdjust="spacingAndGlyphs">Category</text>
<rect x="1026.0" y="311.5" width="190" height="1.2" fill="#86c0b6"/>
<g fill="none" stroke="#4a4a4a" stroke-width="1.1" stroke-linecap="round" stroke-linejoin="round"><path d="M1180.0 295.2 l2 2 l4.6 -4.6"/><path d="M1189.2 295.0 H1196.2"/><path d="M1180.0 300.4 l2 2 l4.6 -4.6"/><path d="M1189.2 300.2 H1196.2"/><path d="M1180.0 305.6 l2 2 l4.6 -4.6"/><path d="M1189.2 305.4 H1196.2"/></g>
<rect x="1027.5" y="318.4" width="64.0" height="24.4" rx="2" fill="url(#gBtn)" stroke="#1c4a2a" stroke-width="0.8"/>
<text x="1035.8999999999999" y="334.50000000000006" font-size="10.3" font-weight="bold" fill="#e6efe6" textLength="21.5" lengthAdjust="spacingAndGlyphs">DeFi</text>
<rect x="1097.6" y="318.4" width="64.0" height="24.4" rx="2" fill="url(#gBtn)" stroke="#1c4a2a" stroke-width="0.8"/>
<text x="1106.0" y="334.50000000000006" font-size="10.3" font-weight="bold" fill="#e6efe6" textLength="33" lengthAdjust="spacingAndGlyphs">Layer 1</text>
<rect x="1167.1" y="318.4" width="59.2" height="24.4" rx="2" fill="url(#gBtn)" stroke="#1c4a2a" stroke-width="0.8"/>
<text x="1175.5" y="334.50000000000006" font-size="10.3" font-weight="bold" fill="#e6efe6" textLength="33" lengthAdjust="spacingAndGlyphs">Layer 2</text>
<rect x="1027.5" y="349.6" width="64.0" height="24.4" rx="2" fill="url(#gBtn)" stroke="#1c4a2a" stroke-width="0.8"/>
<text x="1035.8999999999999" y="365.70000000000005" font-size="10.3" font-weight="bold" fill="#e6efe6" textLength="28.5" lengthAdjust="spacingAndGlyphs">Meme</text>
<rect x="1097.6" y="349.6" width="64.0" height="24.4" rx="2" fill="url(#gBtn)" stroke="#1c4a2a" stroke-width="0.8"/>
<text x="1106.0" y="365.70000000000005" font-size="10.3" font-weight="bold" fill="#e6efe6" textLength="40" lengthAdjust="spacingAndGlyphs">Payment</text>
<text x="1024.6" y="402.4" font-size="10.6" font-weight="bold" fill="#1e1e1e" textLength="75" lengthAdjust="spacingAndGlyphs">Transaction Type</text>
<rect x="1024.1" y="410.9" width="190" height="1.2" fill="#86c0b6"/>
<g fill="none" stroke="#4a4a4a" stroke-width="1.1" stroke-linecap="round" stroke-linejoin="round"><path d="M1179.0 394.4 l2 2 l4.6 -4.6"/><path d="M1188.2 394.2 H1195.2"/><path d="M1179.0 399.6 l2 2 l4.6 -4.6"/><path d="M1188.2 399.4 H1195.2"/><path d="M1179.0 404.8 l2 2 l4.6 -4.6"/><path d="M1188.2 404.6 H1195.2"/></g>
<rect x="1025.4" y="417.8" width="64.2" height="24.4" rx="2" fill="url(#gBtn)" stroke="#1c4a2a" stroke-width="0.8"/>
<text x="1034" y="433.90000000000003" font-size="10.3" font-weight="bold" fill="#e6efe6" textLength="16.5" lengthAdjust="spacingAndGlyphs">Buy</text>
<rect x="1095.8" y="417.8" width="64.0" height="24.4" rx="2" fill="url(#gBtn)" stroke="#1c4a2a" stroke-width="0.8"/>
<text x="1104.4" y="433.90000000000003" font-size="10.3" font-weight="bold" fill="#e6efe6" textLength="18" lengthAdjust="spacingAndGlyphs">Sell</text>
<rect x="1165.2" y="417.8" width="59.2" height="24.4" rx="2" fill="url(#gBtn)" stroke="#1c4a2a" stroke-width="0.8"/>
<text x="1173.8" y="433.90000000000003" font-size="10.3" font-weight="bold" fill="#e6efe6" textLength="25.5" lengthAdjust="spacingAndGlyphs">Stake</text>
<rect x="1025.4" y="448.9" width="64.2" height="24.4" rx="2" fill="url(#gBtn)" stroke="#1c4a2a" stroke-width="0.8"/>
<text x="1034" y="465.00000000000006" font-size="10.3" font-weight="bold" fill="#e6efe6" textLength="24.5" lengthAdjust="spacingAndGlyphs">Swap</text>
<rect x="1095.8" y="448.9" width="64.0" height="24.4" rx="2" fill="url(#gBtn)" stroke="#1c4a2a" stroke-width="0.8"/>
<text x="1104.4" y="465.00000000000006" font-size="10.3" font-weight="bold" fill="#e6efe6" textLength="36.5" lengthAdjust="spacingAndGlyphs">Unstake</text>
<text x="1025.7" y="495.1" font-size="10.6" font-weight="bold" fill="#1e1e1e" textLength="53" lengthAdjust="spacingAndGlyphs">Wallet Type</text>
<rect x="1025.2" y="503.9" width="190" height="1.2" fill="#86c0b6"/>
<g fill="none" stroke="#4a4a4a" stroke-width="1.1" stroke-linecap="round" stroke-linejoin="round"><path d="M1179.8 487.6 l2 2 l4.6 -4.6"/><path d="M1189.0 487.4 H1196.0"/><path d="M1179.8 492.8 l2 2 l4.6 -4.6"/><path d="M1189.0 492.6 H1196.0"/><path d="M1179.8 498.0 l2 2 l4.6 -4.6"/><path d="M1189.0 497.8 H1196.0"/></g>
<rect x="1026.8" y="510.3" width="98.4" height="24.7" rx="2" fill="url(#gBtn)" stroke="#1c4a2a" stroke-width="0.8"/>
<text x="1035.1" y="526.55" font-size="10.3" font-weight="bold" fill="#e6efe6" textLength="53.4" lengthAdjust="spacingAndGlyphs">Cold Wallet</text>
<rect x="1131.4" y="510.3" width="89.2" height="24.7" rx="2" fill="url(#gBtn)" stroke="#1c4a2a" stroke-width="0.8"/>
<text x="1139.8" y="526.55" font-size="10.3" font-weight="bold" fill="#e6efe6" textLength="76" lengthAdjust="spacingAndGlyphs">Exchange Wallet</text>
<rect x="1026.8" y="541.3" width="98.4" height="24.9" rx="2" fill="url(#gBtn)" stroke="#1c4a2a" stroke-width="0.8"/>
<text x="1035.1" y="557.65" font-size="10.3" font-weight="bold" fill="#e6efe6" textLength="47.5" lengthAdjust="spacingAndGlyphs">Hot Wallet</text>
</svg>
</body></html>
